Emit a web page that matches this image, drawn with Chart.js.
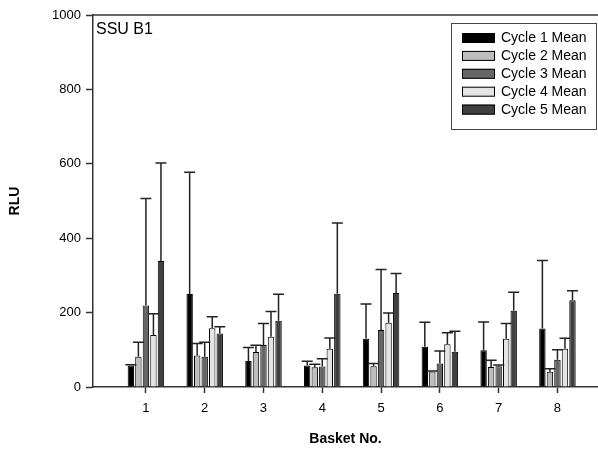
<!DOCTYPE html>
<html>
<head>
<meta charset="utf-8">
<script src="https://cdn.jsdelivr.net/npm/chart.js"></script>
<style>
  html, body { margin: 0; padding: 0; background: #fff; overflow: hidden; }
  #wrap { width: 598px; height: 451px; }
</style>
</head>
<body>
<div id="wrap"><canvas id="chart" width="598" height="451"></canvas></div>
<script>
// Basket numbers on the x axis
const baskets = [1, 2, 3, 4, 5, 6, 7, 8];

// Mean RLU per cycle
const cycle1 = [58, 250, 70, 58, 130, 108, 99, 157];
const cycle2 = [81, 85, 94, 53, 56, 42, 54, 41];
const cycle3 = [219, 81, 113, 55, 153, 63, 56, 73];
const cycle4 = [140, 158, 135, 103, 173, 115, 130, 103];
const cycle5 = [339, 144, 178, 251, 253, 95, 205, 233];

// Upper error (one-sided) per cycle
const err1 = [2, 327, 36, 11, 93, 66, 76, 183];
const err2 = [39, 32, 18, 8, 7, 1, 18, 8];
const err3 = [288, 39, 58, 21, 163, 34, 3, 27];
const err4 = [57, 31, 68, 29, 26, 31, 41, 28];
const err5 = [263, 18, 71, 190, 52, 55, 50, 26];

const yTicks = [0, 200, 400, 600, 800, 1000];

const FONT = "'Liberation Sans', Arial, sans-serif";
const AXIS = "#333";

function toPoints(vals) {
    return vals.map((v, i) => ({ x: baskets[i], y: v }));
}

const series = [
    { label: "Cycle 1 Mean", data: cycle1, err: err1, color: "#000000" },
    { label: "Cycle 2 Mean", data: cycle2, err: err2, color: "#bdbdbd" },
    { label: "Cycle 3 Mean", data: cycle3, err: err3, color: "#666666" },
    { label: "Cycle 4 Mean", data: cycle4, err: err4, color: "#e4e4e4" },
    { label: "Cycle 5 Mean", data: cycle5, err: err5, color: "#404040" }
];

// One-sided error bars drawn from the bar top upward
const errorBars = {
    id: "errorBars",
    afterDatasetsDraw(chart) {
        const ctx = chart.ctx;
        const y = chart.scales.y;
        ctx.save();
        ctx.strokeStyle = "#222";
        ctx.lineWidth = 1.5;
        chart.data.datasets.forEach((ds, i) => {
            const meta = chart.getDatasetMeta(i);
            meta.data.forEach((bar, j) => {
                const top = y.getPixelForValue(ds.data[j].y + ds.errors[j]);
                ctx.beginPath();
                ctx.moveTo(bar.x, bar.y);
                ctx.lineTo(bar.x, top);
                ctx.moveTo(bar.x - 5.5, top);
                ctx.lineTo(bar.x + 5.5, top);
                ctx.stroke();
            });
        });
        ctx.restore();
    }
};

// Top frame line, panel label and boxed legend
const decorations = {
    id: "decorations",
    afterDraw(chart) {
        const ctx = chart.ctx;
        const area = chart.chartArea;
        ctx.save();
        ctx.strokeStyle = AXIS;
        ctx.lineWidth = 1.5;
        ctx.beginPath();
        ctx.moveTo(area.left, area.top);
        ctx.lineTo(area.right, area.top);
        ctx.stroke();

        ctx.fillStyle = "#000";
        ctx.font = "16px " + FONT;
        ctx.textBaseline = "middle";
        ctx.textAlign = "left";
        ctx.fillText("SSU B1", area.left + 3, area.top + 15);

        // legend box
        const bx = 451, by = 23, bw = 145, bh = 106;
        ctx.lineWidth = 1;
        ctx.strokeStyle = "#444";
        ctx.strokeRect(bx + 0.5, by + 0.5, bw, bh);
        ctx.font = "14px " + FONT;
        chart.data.datasets.forEach((ds, i) => {
            const cy = 38 + i * 17.9;
            ctx.fillStyle = ds.backgroundColor;
            ctx.fillRect(462, cy - 5, 33, 10);
            ctx.strokeStyle = "#000";
            ctx.strokeRect(462.5, cy - 4.5, 32, 9);
            ctx.fillStyle = "#000";
            ctx.fillText(ds.label, 501, cy + 0.5);
        });
        ctx.restore();
    }
};

new Chart(document.getElementById("chart"), {
    type: "bar",
    data: {
        datasets: series.map(s => ({
            label: s.label,
            data: toPoints(s.data),
            errors: s.err,
            backgroundColor: s.color,
            borderColor: "#000",
            borderWidth: 1,
            categoryPercentage: 0.64,
            barPercentage: 0.85
        }))
    },
    options: {
        responsive: false,
        animation: false,
        layout: { padding: { top: 15, right: 0, bottom: 0, left: 0 } },
        plugins: { legend: { display: false }, tooltip: { enabled: false } },
        scales: {
            x: {
                type: "linear",
                min: 0.1,
                max: 8.69,
                offset: false,
                afterFit(scale) { scale.height = 64; },
                afterBuildTicks(scale) { scale.ticks = baskets.map(v => ({ value: v })); },
                ticks: {
                    autoSkip: false,
                    padding: 8,
                    color: "#000",
                    font: { family: FONT, size: 13 },
                    callback: v => String(v)
                },
                grid: {
                    offset: false,
                    drawOnChartArea: false,
                    drawTicks: true,
                    tickLength: 6,
                    tickWidth: 1.5,
                    color: AXIS
                },
                border: { color: AXIS, width: 1.5 },
                title: {
                    display: true,
                    text: "Basket No.",
                    color: "#000",
                    font: { family: FONT, size: 14, weight: "bold" },
                    padding: { top: 4, bottom: 3 }
                }
            },
            y: {
                min: 0,
                max: 1000,
                afterFit(scale) { scale.width = 93; },
                afterBuildTicks(scale) { scale.ticks = yTicks.map(v => ({ value: v })); },
                ticks: {
                    padding: 5,
                    color: "#000",
                    font: { family: FONT, size: 13 },
                    callback: v => String(v)
                },
                grid: {
                    drawOnChartArea: false,
                    drawTicks: true,
                    tickLength: 7,
                    tickWidth: 1.5,
                    color: AXIS
                },
                border: { color: AXIS, width: 1.5 },
                title: {
                    display: true,
                    text: "RLU",
                    color: "#000",
                    font: { family: FONT, size: 14, weight: "bold" },
                    padding: { top: 7, bottom: 4 }
                }
            }
        }
    },
    plugins: [errorBars, decorations]
});
</script>
</body>
</html>
